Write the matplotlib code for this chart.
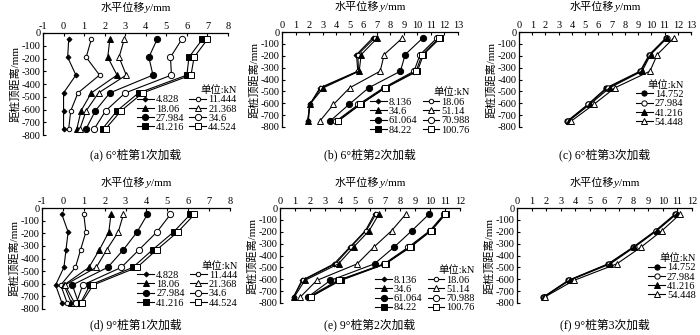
import numpy as np
import matplotlib
matplotlib.use('Agg')
import matplotlib.pyplot as plt

plt.rcParams['font.family'] = ['Liberation Serif', 'Noto Sans CJK SC']
plt.rcParams['axes.unicode_minus'] = False

# depth below pile top (mm)
DEPTH = [-50, -190, -330, -470, -610, -750]

# (a) 6 deg pile, 1st loading
LOADS_A = ['4.828', '11.444', '18.06', '21.368', '27.984', '34.6', '41.216', '44.524']
DISP_A = [
    [0.25, 0.2, 0.6, 0.0, 0.0, 0.0],
    [1.35, 1.1, 1.75, 0.7, 0.35, 0.25],
    [2.25, 2.15, 2.6, 1.35, 0.85, 0.65],
    [2.95, 2.7, 3.05, 1.7, 1.1, 0.8],
    [4.55, 4.15, 4.35, 2.25, 1.55, 1.1],
    [5.75, 5.2, 5.25, 3.0, 2.05, 1.5],
    [6.75, 6.1, 6.0, 3.65, 2.6, 1.9],
    [7.0, 6.35, 6.2, 3.85, 2.8, 2.05],
]

# (b) 6 deg pile, 2nd loading
LOADS_B = ['8.136', '18.06', '34.6', '51.14', '61.064', '70.988', '84.22', '100.76']
DISP_B = [
    [6.7, 5.5, 5.6, 2.8, 2.05, 1.9],
    [6.85, 5.6, 5.65, 2.9, 2.05, 1.9],
    [7.05, 5.85, 5.7, 3.05, 2.05, 1.95],
    [8.9, 7.55, 7.25, 5.0, 3.8, 2.8],
    [10.4, 9.1, 8.75, 6.4, 4.95, 3.55],
    [11.45, 10.2, 9.75, 7.5, 5.65, 4.0],
    [11.7, 10.45, 10.0, 7.65, 5.8, 4.15],
    [11.6, 10.35, 9.9, 7.6, 5.75, 4.1],
]

# (c) 6 deg pile, 3rd loading
LOADS_C = ['14.752', '27.984', '41.216', '54.448']
DISP_C = [
    [11.1, 9.85, 9.15, 6.6, 5.2, 3.65],
    [11.15, 9.9, 9.2, 6.7, 5.25, 3.7],
    [11.2, 9.95, 9.3, 6.85, 5.35, 3.75],
    [11.7, 10.45, 9.9, 7.25, 5.65, 3.95],
]

# (d) 9 deg pile, 1st loading
LOADS_D = LOADS_A
DISP_D = [
    [-0.05, 0.25, 0.15, 0.05, -0.35, -0.05],
    [1.0, 1.1, 0.85, 0.6, -0.1, 0.2],
    [2.3, 2.2, 1.75, 1.25, 0.05, 0.4],
    [2.9, 2.65, 2.1, 1.6, 0.1, 0.55],
    [4.05, 3.55, 2.9, 2.15, 0.45, 0.75],
    [5.15, 4.5, 3.65, 2.8, 0.95, 0.65],
    [6.1, 5.3, 4.3, 3.35, 1.3, 0.85],
    [6.3, 5.5, 4.5, 3.55, 1.45, 0.9],
]

# (e) 9 deg pile, 2nd loading
LOADS_E = LOADS_B
DISP_E = [
    [6.3, 5.7, 4.65, 3.6, 1.45, 0.9],
    [6.4, 5.75, 4.7, 3.7, 1.5, 0.9],
    [6.6, 5.95, 4.9, 3.9, 1.65, 0.95],
    [8.4, 7.45, 6.25, 5.15, 2.45, 1.35],
    [9.95, 8.8, 7.6, 6.3, 3.35, 1.85],
    [10.95, 10.0, 8.55, 6.95, 3.85, 1.9],
    [11.05, 10.1, 8.7, 7.05, 4.05, 2.0],
    [11.0, 10.05, 8.65, 7.0, 3.95, 2.05],
]

# (f) 9 deg pile, 3rd loading
LOADS_F = LOADS_C
DISP_F = [
    [10.85, 9.5, 7.95, 6.25, 3.5, 1.8],
    [10.9, 9.55, 8.0, 6.3, 3.55, 1.82],
    [10.95, 9.6, 8.05, 6.4, 3.6, 1.85],
    [11.2, 9.95, 8.5, 6.85, 3.9, 1.9],
]

TITLES = ['(a) 6°桩第1次加载', '(b) 6°桩第2次加载', '(c) 6°桩第3次加载',
          '(d) 9°桩第1次加载', '(e) 9°桩第2次加载', '(f) 9°桩第3次加载']

# marker styles (marker, size, filled)
STYLE8 = [('D', 2.5, True), ('o', 3.2, False), ('^', 3.8, True), ('^', 3.8, False),
          ('o', 4.5, True), ('o', 4.5, False), ('s', 4.3, True), ('s', 4.3, False)]
STYLE4 = [('o', 3.8, True), ('o', 3.8, False), ('^', 3.8, True), ('^', 3.8, False)]

FS = 7.5
W, H = 700, 335

fig = plt.figure(figsize=(7, 3.35), dpi=100)
renderer = fig.canvas.get_renderer()


def top_label(cx, base_y):
    # x label with italic y, built from three pieces (pixel coords)
    pieces = [('水平位移', 'normal'), ('y', 'italic'), ('/mm', 'normal')]
    texts = []
    for s, st in pieces:
        t = fig.text(0, 0, s, fontsize=8, style=st, va='baseline', ha='left')
        texts.append(t)
    widths = [t.get_window_extent(renderer).width for t in texts]
    x = cx - sum(widths) / 2
    for t, w in zip(texts, widths):
        t.set_position((x / W, 1 - base_y / H))
        x += w


def draw_panel(box, loads, disp, xlim, styles, leg_anchor, title, title_y):
    x0, y0, x1, y1 = box
    ax = fig.add_axes([x0 / W, 1 - y1 / H, (x1 - x0) / W, (y1 - y0) / H])
    handles = []
    for lab, vals, (m, ms, filled) in zip(loads, disp, styles):
        h, = ax.plot(vals, DEPTH, color='black', lw=0.8, marker=m, ms=ms,
                     mfc='black' if filled else 'white', mec='black', mew=0.7,
                     label=lab)
        handles.append(h)
    ax.set_xlim(xlim)
    ax.set_ylim(-800, 0)
    ax.set_xticks(np.arange(xlim[0], xlim[1] + 1, 1))
    ax.set_yticks(np.arange(-800, 1, 100))
    ax.xaxis.tick_top()
    for s in ['bottom', 'right']:
        ax.spines[s].set_visible(False)
    for s in ['top', 'left']:
        ax.spines[s].set_linewidth(0.9)
    ax.tick_params(direction='in', length=2.5, width=0.8, labelsize=FS, pad=1.5)
    ax.set_ylabel('距桩顶距离/mm', fontsize=8, labelpad=1)
    top_label((x0 + x1) / 2, y0 - 22)

    if len(handles) == 8:
        order = [0, 2, 4, 6, 1, 3, 5, 7]
        hs = [handles[i] for i in order]
        leg = ax.legend(hs, [h.get_label() for h in hs], ncol=2,
                        loc='upper left', bbox_to_anchor=leg_anchor,
                        frameon=False, fontsize=FS, title='单位:kN',
                        title_fontsize=FS, alignment='right',
                        handlelength=1.6, handletextpad=0.2,
                        columnspacing=0.5, labelspacing=0.0, borderpad=0)
    else:
        leg = ax.legend(handles, loads, loc='upper left',
                        bbox_to_anchor=leg_anchor, frameon=False, fontsize=FS,
                        title='单位:kN', title_fontsize=FS, alignment='right',
                        handlelength=1.6, handletextpad=0.2,
                        labelspacing=0.0, borderpad=0)
    leg.set_clip_on(False)
    fig.text((x0 + x1) / 2 / W, 1 - title_y / H, title, ha='center',
             va='center', fontsize=8.5)
    return ax


draw_panel((43, 33, 228, 135), LOADS_A, DISP_A, (-1, 8), STYLE8,
           (0.48, 0.54), TITLES[0], 155)
draw_panel((282, 32, 458, 127), LOADS_B, DISP_B, (0, 13), STYLE8,
           (0.47, 0.47), TITLES[1], 155)
draw_panel((519, 32, 691, 127), LOADS_C, DISP_C, (0, 13), STYLE4,
           (0.65, 0.55), TITLES[2], 155)
draw_panel((42, 208, 230, 309), LOADS_D, DISP_D, (-1, 8), STYLE8,
           (0.48, 0.53), TITLES[3], 325)
draw_panel((280, 208, 460, 303), LOADS_E, DISP_E, (0, 12), STYLE8,
           (0.5, 0.45), TITLES[4], 325)
draw_panel((517, 208, 692, 303), LOADS_F, DISP_F, (0, 12), STYLE4,
           (0.72, 0.58), TITLES[5], 325)

fig.savefig('out.png', dpi=100)
